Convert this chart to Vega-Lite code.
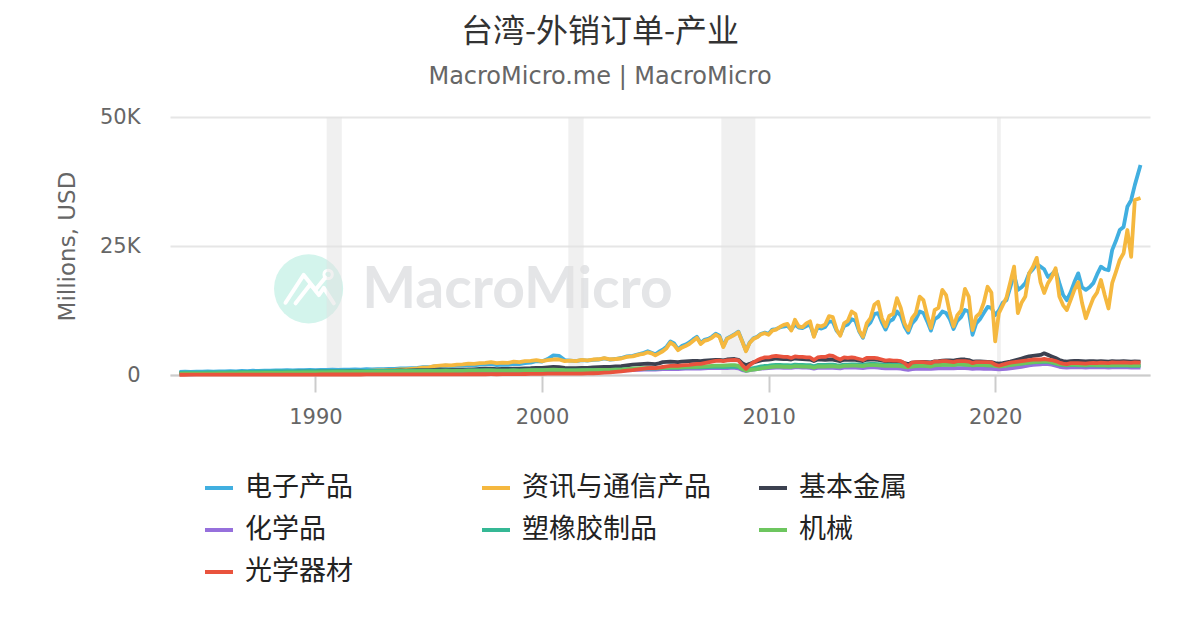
{
  "$schema": "https://vega.github.io/schema/vega-lite/v6.json",
  "width": 980,
  "height": 258,
  "autosize": {"type": "none"},
  "padding": {"left": 170, "top": 117, "right": 50, "bottom": 255},
  "background": "white",
  "title": {
    "text": "台湾-外销订单-产业",
    "subtitle": "MacroMicro.me | MacroMicro",
    "anchor": "middle",
    "frame": "group",
    "dx": -60,
    "font": "Noto Sans CJK SC",
    "fontSize": 32,
    "fontWeight": "normal",
    "color": "#333333",
    "subtitleFont": "DejaVu Sans",
    "subtitleFontSize": 24,
    "subtitleColor": "#666666",
    "subtitlePadding": 16,
    "offset": 16
  },
  "config": {"view": {"stroke": null}},
  "datasets": {
    "orders": [
      {"d":"1984-01","e":600,"i":250,"m":300,"c":150,"p":420,"k":230,"o":50},
      {"d":"1984-04","e":640,"i":260,"m":320,"c":160,"p":440,"k":240,"o":50},
      {"d":"1984-07","e":620,"i":280,"m":330,"c":150,"p":450,"k":250,"o":55},
      {"d":"1984-10","e":660,"i":290,"m":340,"c":170,"p":460,"k":260,"o":55},
      {"d":"1985-01","e":640,"i":300,"m":330,"c":160,"p":450,"k":250,"o":55},
      {"d":"1985-04","e":680,"i":310,"m":360,"c":180,"p":480,"k":270,"o":60},
      {"d":"1985-07","e":660,"i":330,"m":370,"c":170,"p":490,"k":280,"o":60},
      {"d":"1985-10","e":700,"i":340,"m":380,"c":190,"p":510,"k":290,"o":60},
      {"d":"1986-01","e":690,"i":350,"m":390,"c":190,"p":520,"k":290,"o":65},
      {"d":"1986-04","e":740,"i":370,"m":420,"c":210,"p":550,"k":310,"o":65},
      {"d":"1986-07","e":720,"i":390,"m":430,"c":200,"p":560,"k":320,"o":70},
      {"d":"1986-10","e":780,"i":410,"m":450,"c":220,"p":580,"k":340,"o":70},
      {"d":"1987-01","e":760,"i":420,"m":470,"c":230,"p":590,"k":350,"o":70},
      {"d":"1987-04","e":820,"i":450,"m":500,"c":250,"p":620,"k":370,"o":75},
      {"d":"1987-07","e":800,"i":470,"m":520,"c":260,"p":630,"k":380,"o":75},
      {"d":"1987-10","e":860,"i":490,"m":540,"c":280,"p":650,"k":400,"o":80},
      {"d":"1988-01","e":840,"i":500,"m":550,"c":280,"p":650,"k":400,"o":80},
      {"d":"1988-04","e":900,"i":530,"m":580,"c":300,"p":680,"k":420,"o":80},
      {"d":"1988-07","e":880,"i":540,"m":590,"c":300,"p":690,"k":430,"o":85},
      {"d":"1988-10","e":940,"i":560,"m":610,"c":320,"p":700,"k":450,"o":85},
      {"d":"1989-01","e":910,"i":570,"m":610,"c":320,"p":700,"k":450,"o":85},
      {"d":"1989-04","e":960,"i":590,"m":640,"c":340,"p":720,"k":470,"o":90},
      {"d":"1989-07","e":940,"i":600,"m":650,"c":340,"p":720,"k":480,"o":90},
      {"d":"1989-10","e":990,"i":620,"m":660,"c":350,"p":730,"k":500,"o":90},
      {"d":"1990-01","e":960,"i":620,"m":650,"c":340,"p":720,"k":490,"o":90},
      {"d":"1990-04","e":1010,"i":640,"m":680,"c":360,"p":740,"k":510,"o":95},
      {"d":"1990-07","e":990,"i":650,"m":690,"c":360,"p":740,"k":520,"o":95},
      {"d":"1990-10","e":1030,"i":670,"m":700,"c":370,"p":750,"k":530,"o":95},
      {"d":"1991-01","e":1000,"i":680,"m":690,"c":360,"p":740,"k":530,"o":95},
      {"d":"1991-04","e":1050,"i":710,"m":720,"c":380,"p":760,"k":560,"o":100},
      {"d":"1991-07","e":1040,"i":730,"m":730,"c":380,"p":760,"k":570,"o":100},
      {"d":"1991-10","e":1090,"i":760,"m":750,"c":400,"p":770,"k":590,"o":100},
      {"d":"1992-01","e":1060,"i":770,"m":740,"c":390,"p":760,"k":590,"o":100},
      {"d":"1992-04","e":1110,"i":800,"m":770,"c":410,"p":780,"k":610,"o":105},
      {"d":"1992-07","e":1100,"i":830,"m":780,"c":410,"p":780,"k":620,"o":105},
      {"d":"1992-10","e":1150,"i":870,"m":800,"c":420,"p":790,"k":640,"o":110},
      {"d":"1993-01","e":1120,"i":900,"m":790,"c":410,"p":780,"k":640,"o":110},
      {"d":"1993-04","e":1190,"i":960,"m":830,"c":430,"p":800,"k":660,"o":110},
      {"d":"1993-07","e":1200,"i":1000,"m":840,"c":440,"p":800,"k":670,"o":115},
      {"d":"1993-10","e":1280,"i":1080,"m":870,"c":450,"p":820,"k":690,"o":115},
      {"d":"1994-01","e":1260,"i":1100,"m":860,"c":440,"p":810,"k":690,"o":115},
      {"d":"1994-04","e":1350,"i":1200,"m":900,"c":460,"p":830,"k":710,"o":120},
      {"d":"1994-07","e":1400,"i":1280,"m":920,"c":470,"p":840,"k":720,"o":120},
      {"d":"1994-10","e":1520,"i":1420,"m":960,"c":480,"p":850,"k":740,"o":125},
      {"d":"1995-01","e":1500,"i":1480,"m":950,"c":480,"p":840,"k":730,"o":125},
      {"d":"1995-04","e":1650,"i":1700,"m":1000,"c":500,"p":860,"k":760,"o":130},
      {"d":"1995-07","e":1700,"i":1800,"m":1020,"c":500,"p":860,"k":770,"o":130},
      {"d":"1995-10","e":1820,"i":1900,"m":1050,"c":510,"p":870,"k":790,"o":135},
      {"d":"1996-01","e":1700,"i":1850,"m":1000,"c":490,"p":850,"k":770,"o":135},
      {"d":"1996-04","e":1800,"i":2000,"m":1040,"c":500,"p":860,"k":790,"o":140},
      {"d":"1996-07","e":1800,"i":2050,"m":1050,"c":500,"p":860,"k":800,"o":140},
      {"d":"1996-10","e":1950,"i":2200,"m":1100,"c":520,"p":880,"k":830,"o":145},
      {"d":"1997-01","e":1850,"i":2150,"m":1100,"c":520,"p":870,"k":820,"o":145},
      {"d":"1997-04","e":2000,"i":2300,"m":1180,"c":550,"p":900,"k":850,"o":150},
      {"d":"1997-07","e":2050,"i":2350,"m":1220,"c":560,"p":910,"k":870,"o":150},
      {"d":"1997-10","e":2150,"i":2500,"m":1250,"c":560,"p":910,"k":880,"o":155},
      {"d":"1998-01","e":1900,"i":2300,"m":1150,"c":500,"p":850,"k":830,"o":150},
      {"d":"1998-04","e":2000,"i":2400,"m":1180,"c":500,"p":850,"k":850,"o":155},
      {"d":"1998-07","e":1950,"i":2350,"m":1170,"c":490,"p":840,"k":840,"o":160},
      {"d":"1998-10","e":2150,"i":2600,"m":1230,"c":520,"p":870,"k":870,"o":165},
      {"d":"1999-01","e":2100,"i":2500,"m":1220,"c":520,"p":860,"k":860,"o":170},
      {"d":"1999-04","e":2300,"i":2700,"m":1300,"c":550,"p":900,"k":900,"o":190},
      {"d":"1999-07","e":2400,"i":2750,"m":1330,"c":560,"p":910,"k":920,"o":200},
      {"d":"1999-10","e":2700,"i":2900,"m":1400,"c":600,"p":930,"k":950,"o":220},
      {"d":"2000-01","e":2600,"i":2700,"m":1400,"c":600,"p":920,"k":940,"o":230},
      {"d":"2000-04","e":3100,"i":2900,"m":1480,"c":640,"p":950,"k":990,"o":250},
      {"d":"2000-07","e":3800,"i":3000,"m":1550,"c":670,"p":970,"k":1030,"o":260},
      {"d":"2000-10","e":3700,"i":3000,"m":1500,"c":660,"p":960,"k":1010,"o":260},
      {"d":"2001-01","e":2900,"i":2700,"m":1380,"c":600,"p":900,"k":920,"o":250},
      {"d":"2001-04","e":2800,"i":2800,"m":1350,"c":590,"p":890,"k":900,"o":250},
      {"d":"2001-07","e":2700,"i":2700,"m":1320,"c":580,"p":880,"k":880,"o":250},
      {"d":"2001-10","e":2900,"i":2950,"m":1380,"c":610,"p":910,"k":920,"o":280},
      {"d":"2002-01","e":2800,"i":2850,"m":1400,"c":620,"p":920,"k":920,"o":300},
      {"d":"2002-04","e":2950,"i":3000,"m":1480,"c":650,"p":950,"k":950,"o":340},
      {"d":"2002-07","e":3000,"i":3050,"m":1520,"c":660,"p":960,"k":970,"o":380},
      {"d":"2002-10","e":3200,"i":3250,"m":1580,"c":690,"p":990,"k":1000,"o":450},
      {"d":"2003-01","e":3000,"i":3050,"m":1580,"c":700,"p":990,"k":1000,"o":500},
      {"d":"2003-04","e":3100,"i":3100,"m":1650,"c":760,"p":1030,"k":1030,"o":600},
      {"d":"2003-07","e":3300,"i":3200,"m":1720,"c":800,"p":1060,"k":1060,"o":700},
      {"d":"2003-10","e":3600,"i":3500,"m":1850,"c":880,"p":1120,"k":1150,"o":850},
      {"d":"2004-01","e":3700,"i":3600,"m":2000,"c":950,"p":1150,"k":1250,"o":950},
      {"d":"2004-03","e":3900,"i":3800,"m":2050,"c":1000,"p":1180,"k":1300,"o":1050},
      {"d":"2004-05","e":4100,"i":4000,"m":2100,"c":1020,"p":1200,"k":1320,"o":1150},
      {"d":"2004-07","e":4300,"i":4100,"m":2150,"c":1050,"p":1220,"k":1350,"o":1250},
      {"d":"2004-09","e":4600,"i":4400,"m":2200,"c":1070,"p":1250,"k":1380,"o":1350},
      {"d":"2004-11","e":4300,"i":4200,"m":2150,"c":1050,"p":1230,"k":1350,"o":1400},
      {"d":"2005-01","e":4000,"i":3800,"m":2100,"c":1050,"p":1250,"k":1350,"o":1350},
      {"d":"2005-03","e":4500,"i":4200,"m":2250,"c":1100,"p":1300,"k":1400,"o":1450},
      {"d":"2005-05","e":4900,"i":4600,"m":2500,"c":1120,"p":1320,"k":1420,"o":1550},
      {"d":"2005-07","e":5500,"i":5200,"m":2550,"c":1150,"p":1350,"k":1450,"o":1650},
      {"d":"2005-09","e":6500,"i":6300,"m":2600,"c":1170,"p":1380,"k":1480,"o":1750},
      {"d":"2005-11","e":6100,"i":5800,"m":2550,"c":1160,"p":1370,"k":1470,"o":1800},
      {"d":"2006-01","e":5000,"i":4800,"m":2500,"c":1150,"p":1370,"k":1500,"o":1750},
      {"d":"2006-03","e":5600,"i":5300,"m":2600,"c":1200,"p":1420,"k":1550,"o":1850},
      {"d":"2006-05","e":5900,"i":5600,"m":2650,"c":1220,"p":1440,"k":1570,"o":1900},
      {"d":"2006-07","e":6300,"i":6000,"m":2700,"c":1240,"p":1460,"k":1580,"o":1950},
      {"d":"2006-09","e":6900,"i":6600,"m":2750,"c":1260,"p":1480,"k":1600,"o":2050},
      {"d":"2006-11","e":7400,"i":7200,"m":2750,"c":1250,"p":1470,"k":1600,"o":2150},
      {"d":"2007-01","e":6200,"i":6000,"m":2700,"c":1260,"p":1480,"k":1620,"o":2150},
      {"d":"2007-03","e":6800,"i":6600,"m":2800,"c":1300,"p":1520,"k":1680,"o":2300},
      {"d":"2007-05","e":7000,"i":6800,"m":2850,"c":1320,"p":1540,"k":1720,"o":2450},
      {"d":"2007-07","e":7400,"i":7200,"m":2900,"c":1340,"p":1560,"k":1760,"o":2600},
      {"d":"2007-09","e":8000,"i":7800,"m":2950,"c":1360,"p":1580,"k":1800,"o":2750},
      {"d":"2007-11","e":7600,"i":7400,"m":2950,"c":1350,"p":1570,"k":1820,"o":2800},
      {"d":"2008-01","e":5600,"i":5400,"m":2850,"c":1330,"p":1550,"k":1800,"o":2700},
      {"d":"2008-03","e":7100,"i":7000,"m":3000,"c":1360,"p":1580,"k":1880,"o":2850},
      {"d":"2008-05","e":7500,"i":7400,"m":3050,"c":1380,"p":1600,"k":1900,"o":2900},
      {"d":"2008-07","e":7900,"i":7800,"m":3100,"c":1400,"p":1620,"k":1920,"o":2950},
      {"d":"2008-09","e":8400,"i":8300,"m":2950,"c":1300,"p":1550,"k":1750,"o":2850},
      {"d":"2008-11","e":6600,"i":6500,"m":2300,"c":950,"p":1150,"k":1150,"o":1900},
      {"d":"2009-01","e":4700,"i":4600,"m":1900,"c":800,"p":1000,"k":800,"o":1200},
      {"d":"2009-03","e":6300,"i":6200,"m":2150,"c":950,"p":1200,"k":950,"o":1900},
      {"d":"2009-05","e":7100,"i":7000,"m":2450,"c":1050,"p":1350,"k":1050,"o":2450},
      {"d":"2009-07","e":7400,"i":7300,"m":2650,"c":1150,"p":1500,"k":1150,"o":2850},
      {"d":"2009-09","e":8000,"i":7900,"m":2850,"c":1250,"p":1650,"k":1300,"o":3200},
      {"d":"2009-11","e":8200,"i":8100,"m":2950,"c":1300,"p":1750,"k":1400,"o":3400},
      {"d":"2010-01","e":8000,"i":7800,"m":3000,"c":1350,"p":1800,"k":1500,"o":3400},
      {"d":"2010-03","e":8800,"i":8600,"m":3100,"c":1400,"p":1900,"k":1600,"o":3600},
      {"d":"2010-05","e":8900,"i":8800,"m":3200,"c":1450,"p":1950,"k":1650,"o":3700},
      {"d":"2010-07","e":9200,"i":9300,"m":3150,"c":1420,"p":1950,"k":1650,"o":3600},
      {"d":"2010-09","e":9400,"i":9700,"m":3100,"c":1400,"p":1900,"k":1600,"o":3500},
      {"d":"2010-11","e":9500,"i":9900,"m":3100,"c":1400,"p":1900,"k":1600,"o":3500},
      {"d":"2011-01","e":8800,"i":8600,"m":3000,"c":1380,"p":1850,"k":1550,"o":3300},
      {"d":"2011-03","e":9800,"i":10700,"m":3200,"c":1500,"p":2000,"k":1700,"o":3600},
      {"d":"2011-05","e":9200,"i":9400,"m":3150,"c":1480,"p":1980,"k":1680,"o":3500},
      {"d":"2011-07","e":9100,"i":9300,"m":3100,"c":1450,"p":1950,"k":1650,"o":3500},
      {"d":"2011-09","e":9500,"i":10000,"m":3050,"c":1430,"p":1930,"k":1620,"o":3400},
      {"d":"2011-11","e":9700,"i":10400,"m":3000,"c":1400,"p":1900,"k":1600,"o":3400},
      {"d":"2012-01","e":7600,"i":7400,"m":2700,"c":1250,"p":1700,"k":1400,"o":2900},
      {"d":"2012-03","e":9200,"i":9600,"m":3000,"c":1400,"p":1950,"k":1650,"o":3400},
      {"d":"2012-05","e":9000,"i":9400,"m":3000,"c":1400,"p":1950,"k":1650,"o":3500},
      {"d":"2012-07","e":9300,"i":9800,"m":2950,"c":1380,"p":1950,"k":1650,"o":3500},
      {"d":"2012-09","e":10400,"i":11400,"m":3000,"c":1400,"p":2000,"k":1700,"o":3800},
      {"d":"2012-11","e":10300,"i":11200,"m":3000,"c":1400,"p":2000,"k":1700,"o":3700},
      {"d":"2013-01","e":8600,"i":8800,"m":2850,"c":1350,"p":1900,"k":1650,"o":3300},
      {"d":"2013-03","e":7800,"i":7600,"m":2700,"c":1300,"p":1850,"k":1600,"o":3000},
      {"d":"2013-05","e":9500,"i":10000,"m":2950,"c":1420,"p":2000,"k":1750,"o":3400},
      {"d":"2013-07","e":9800,"i":10500,"m":2950,"c":1420,"p":2000,"k":1750,"o":3300},
      {"d":"2013-09","e":10800,"i":12300,"m":3000,"c":1450,"p":2050,"k":1800,"o":3400},
      {"d":"2013-11","e":10500,"i":11800,"m":2950,"c":1430,"p":2050,"k":1800,"o":3300},
      {"d":"2014-01","e":8400,"i":8600,"m":2800,"c":1380,"p":2000,"k":1750,"o":3100},
      {"d":"2014-03","e":7200,"i":7400,"m":2700,"c":1350,"p":1950,"k":1700,"o":2900},
      {"d":"2014-05","e":9400,"i":10000,"m":2950,"c":1450,"p":2100,"k":1850,"o":3300},
      {"d":"2014-07","e":10200,"i":11000,"m":3000,"c":1470,"p":2150,"k":1900,"o":3300},
      {"d":"2014-09","e":11800,"i":13600,"m":3000,"c":1460,"p":2150,"k":1900,"o":3300},
      {"d":"2014-11","e":12000,"i":14200,"m":2950,"c":1440,"p":2100,"k":1880,"o":3200},
      {"d":"2015-01","e":10200,"i":11000,"m":2800,"c":1350,"p":2000,"k":1800,"o":3000},
      {"d":"2015-03","e":8800,"i":9400,"m":2700,"c":1300,"p":1950,"k":1750,"o":2800},
      {"d":"2015-05","e":10400,"i":11500,"m":2750,"c":1320,"p":2000,"k":1800,"o":2900},
      {"d":"2015-07","e":10800,"i":11800,"m":2700,"c":1300,"p":1950,"k":1750,"o":2800},
      {"d":"2015-09","e":12300,"i":14900,"m":2650,"c":1280,"p":1950,"k":1750,"o":2800},
      {"d":"2015-11","e":11500,"i":13000,"m":2550,"c":1230,"p":1900,"k":1700,"o":2700},
      {"d":"2016-01","e":9400,"i":10000,"m":2300,"c":1100,"p":1750,"k":1600,"o":2300},
      {"d":"2016-03","e":8200,"i":8700,"m":2100,"c":1000,"p":1650,"k":1500,"o":1700},
      {"d":"2016-05","e":10000,"i":11000,"m":2400,"c":1150,"p":1800,"k":1650,"o":2400},
      {"d":"2016-07","e":10800,"i":12000,"m":2450,"c":1180,"p":1850,"k":1700,"o":2500},
      {"d":"2016-09","e":12300,"i":15200,"m":2500,"c":1200,"p":1900,"k":1750,"o":2500},
      {"d":"2016-11","e":12000,"i":14500,"m":2550,"c":1200,"p":1900,"k":1750,"o":2500},
      {"d":"2017-01","e":10400,"i":11500,"m":2500,"c":1200,"p":1850,"k":1700,"o":2400},
      {"d":"2017-03","e":8600,"i":9100,"m":2450,"c":1180,"p":1800,"k":1650,"o":2300},
      {"d":"2017-05","e":10800,"i":12600,"m":2650,"c":1250,"p":1950,"k":1850,"o":2600},
      {"d":"2017-07","e":11300,"i":13000,"m":2700,"c":1270,"p":1950,"k":1900,"o":2600},
      {"d":"2017-09","e":12300,"i":16500,"m":2800,"c":1300,"p":2000,"k":1950,"o":2700},
      {"d":"2017-11","e":12000,"i":15500,"m":2850,"c":1300,"p":2000,"k":2000,"o":2700},
      {"d":"2018-01","e":10800,"i":12000,"m":2850,"c":1300,"p":2000,"k":1950,"o":2600},
      {"d":"2018-03","e":8900,"i":9400,"m":2800,"c":1280,"p":1950,"k":1900,"o":2500},
      {"d":"2018-05","e":10500,"i":11600,"m":2950,"c":1330,"p":2050,"k":2050,"o":2700},
      {"d":"2018-07","e":11200,"i":12500,"m":3000,"c":1350,"p":2050,"k":2050,"o":2700},
      {"d":"2018-09","e":12600,"i":16700,"m":3000,"c":1330,"p":2000,"k":2000,"o":2700},
      {"d":"2018-11","e":12300,"i":15200,"m":2900,"c":1300,"p":1950,"k":1950,"o":2600},
      {"d":"2019-01","e":7800,"i":8700,"m":2600,"c":1200,"p":1850,"k":1850,"o":2300},
      {"d":"2019-03","e":10000,"i":11300,"m":2650,"c":1220,"p":1900,"k":1900,"o":2500},
      {"d":"2019-05","e":10800,"i":12000,"m":2650,"c":1220,"p":1900,"k":1900,"o":2500},
      {"d":"2019-07","e":12000,"i":14000,"m":2600,"c":1200,"p":1900,"k":1900,"o":2500},
      {"d":"2019-09","e":13200,"i":17100,"m":2550,"c":1200,"p":1880,"k":1880,"o":2500},
      {"d":"2019-11","e":13000,"i":16000,"m":2500,"c":1180,"p":1850,"k":1850,"o":2450},
      {"d":"2020-01","e":11600,"i":6500,"m":2300,"c":1150,"p":1800,"k":1750,"o":2000},
      {"d":"2020-03","e":12500,"i":12000,"m":2200,"c":1100,"p":1700,"k":1650,"o":1800},
      {"d":"2020-05","e":14000,"i":13500,"m":2300,"c":1150,"p":1750,"k":1700,"o":2000},
      {"d":"2020-07","e":14500,"i":15000,"m":2450,"c":1200,"p":1850,"k":1800,"o":2200},
      {"d":"2020-09","e":17000,"i":18000,"m":2600,"c":1300,"p":1950,"k":1900,"o":2400},
      {"d":"2020-11","e":19500,"i":21000,"m":2800,"c":1400,"p":2050,"k":2000,"o":2500},
      {"d":"2021-01","e":16500,"i":12000,"m":3000,"c":1500,"p":2150,"k":2100,"o":2600},
      {"d":"2021-03","e":17000,"i":14000,"m":3200,"c":1600,"p":2200,"k":2200,"o":2700},
      {"d":"2021-05","e":17800,"i":15200,"m":3400,"c":1700,"p":2300,"k":2300,"o":2800},
      {"d":"2021-07","e":19700,"i":19700,"m":3600,"c":1850,"p":2400,"k":2400,"o":2900},
      {"d":"2021-09","e":20500,"i":21000,"m":3700,"c":1950,"p":2450,"k":2500,"o":3000},
      {"d":"2021-11","e":21500,"i":22700,"m":3800,"c":2000,"p":2500,"k":2550,"o":3000},
      {"d":"2022-01","e":21000,"i":18000,"m":3900,"c":2050,"p":2500,"k":2600,"o":3000},
      {"d":"2022-03","e":20500,"i":15900,"m":4200,"c":2150,"p":2600,"k":2700,"o":3100},
      {"d":"2022-05","e":19000,"i":17800,"m":3900,"c":2100,"p":2550,"k":2650,"o":3000},
      {"d":"2022-07","e":19500,"i":19000,"m":3600,"c":2000,"p":2400,"k":2500,"o":2900},
      {"d":"2022-09","e":20300,"i":20700,"m":3300,"c":1800,"p":2200,"k":2300,"o":2700},
      {"d":"2022-11","e":17800,"i":15200,"m":2900,"c":1600,"p":2000,"k":2100,"o":2400},
      {"d":"2023-01","e":15500,"i":13500,"m":2700,"c":1500,"p":1900,"k":2000,"o":2200},
      {"d":"2023-03","e":14500,"i":12600,"m":2600,"c":1450,"p":1850,"k":1950,"o":2100},
      {"d":"2023-05","e":16000,"i":14500,"m":2700,"c":1500,"p":1900,"k":2000,"o":2300},
      {"d":"2023-07","e":18000,"i":16500,"m":2750,"c":1500,"p":1900,"k":2000,"o":2300},
      {"d":"2023-09","e":19700,"i":18000,"m":2750,"c":1500,"p":1880,"k":1980,"o":2300},
      {"d":"2023-11","e":17000,"i":14000,"m":2700,"c":1480,"p":1850,"k":1950,"o":2250},
      {"d":"2024-01","e":16500,"i":11000,"m":2650,"c":1450,"p":1800,"k":1900,"o":2200},
      {"d":"2024-03","e":17000,"i":13000,"m":2700,"c":1480,"p":1850,"k":1950,"o":2300},
      {"d":"2024-05","e":17800,"i":14900,"m":2700,"c":1500,"p":1850,"k":1950,"o":2350},
      {"d":"2024-07","e":19500,"i":16000,"m":2650,"c":1480,"p":1800,"k":1900,"o":2300},
      {"d":"2024-09","e":21000,"i":18400,"m":2700,"c":1500,"p":1850,"k":1950,"o":2400},
      {"d":"2024-11","e":20500,"i":15500,"m":2650,"c":1480,"p":1800,"k":1900,"o":2350},
      {"d":"2025-01","e":20300,"i":12900,"m":2600,"c":1450,"p":1750,"k":1850,"o":2300},
      {"d":"2025-03","e":24200,"i":17800,"m":2700,"c":1500,"p":1850,"k":1950,"o":2450},
      {"d":"2025-05","e":26000,"i":20000,"m":2650,"c":1480,"p":1800,"k":1900,"o":2400},
      {"d":"2025-07","e":28100,"i":22300,"m":2650,"c":1480,"p":1800,"k":1900,"o":2400},
      {"d":"2025-09","e":28700,"i":23600,"m":2700,"c":1500,"p":1850,"k":1950,"o":2450},
      {"d":"2025-11","e":32600,"i":28100,"m":2650,"c":1480,"p":1800,"k":1900,"o":2400},
      {"d":"2026-01","e":33900,"i":22900,"m":2600,"c":1450,"p":1750,"k":1850,"o":2350},
      {"d":"2026-03","e":36800,"i":33900,"m":2650,"c":1480,"p":1800,"k":1900,"o":2450},
      {"d":"2026-06","e":40700,"i":34300,"m":2600,"c":1450,"p":1750,"k":1850,"o":2400}
    ],
    "bands": [
      {"s": "1990-07-01", "e": "1991-03-01"},
      {"s": "2001-03-01", "e": "2001-11-01"},
      {"s": "2007-12-01", "e": "2009-06-01"},
      {"s": "2020-02-01", "e": "2020-04-01"}
    ],
    "logo": [
      {"g": "a", "d": "1988-09-05", "v": 14000},
      {"g": "a", "d": "1989-06-25", "v": 19400},
      {"g": "a", "d": "1990-01-01", "v": 16500},
      {"g": "a", "d": "1990-06-10", "v": 18900},
      {"g": "b", "d": "1989-02-14", "v": 13900},
      {"g": "b", "d": "1989-10-12", "v": 17600},
      {"g": "b", "d": "1990-02-25", "v": 15500},
      {"g": "b", "d": "1990-05-15", "v": 16900},
      {"g": "b", "d": "1990-10-23", "v": 13900}
    ]
  },
  "layer": [
    {
      "data": {"values": [{"d": "1989-09-12", "v": 16700}]},
      "mark": {"type": "circle", "size": 4780, "color": "#d3f4ec", "opacity": 1},
      "encoding": {
        "x": {"field": "d", "type": "temporal", "scale": {"domain": [{"year": 1983, "month": 8, "date": 1}, {"year": 2026, "month": 11, "date": 1}]}},
        "y": {"field": "v", "type": "quantitative", "scale": {"domain": [0, 50000], "nice": false}}
      }
    },
    {
      "data": {"name": "logo"},
      "mark": {"type": "line", "color": "white", "strokeWidth": 4, "strokeCap": "round", "strokeJoin": "round"},
      "encoding": {
        "x": {"field": "d", "type": "temporal"},
        "y": {"field": "v", "type": "quantitative"},
        "detail": {"field": "g", "type": "nominal"}
      }
    },
    {
      "data": {"values": [{"d": "1990-07-24", "v": 19500}]},
      "mark": {"type": "point", "filled": false, "color": "white", "strokeWidth": 3, "size": 70, "opacity": 1},
      "encoding": {
        "x": {"field": "d", "type": "temporal"},
        "y": {"field": "v", "type": "quantitative"}
      }
    },
    {
      "data": {"values": [{"d": "1992-01-25", "v": 13000, "t": "MacroMicro"}]},
      "mark": {"type": "text", "align": "left", "baseline": "alphabetic", "font": "Lato", "fontWeight": "bold", "fontSize": 57, "color": "#e4e5e7"},
      "encoding": {
        "x": {"field": "d", "type": "temporal"},
        "y": {"field": "v", "type": "quantitative"},
        "text": {"field": "t", "type": "nominal"}
      }
    },
    {
      "data": {"name": "bands"},
      "mark": {"type": "rect", "color": "#e2e2e2", "opacity": 0.5},
      "encoding": {
        "x": {"field": "s", "type": "temporal"},
        "x2": {"field": "e"},
        "y": {"datum": 0, "type": "quantitative"},
        "y2": {"datum": 50000}
      }
    },
    {
      "data": {"name": "orders"},
      "transform": [{"fold": ["e", "i", "m", "c", "p", "k", "o"], "as": ["s", "v"]}],
      "mark": {"type": "line", "strokeWidth": 3.8, "strokeJoin": "round"},
      "encoding": {
        "x": {
          "field": "d",
          "type": "temporal",
          "axis": {
            "title": null,
            "values": [{"year": 1990}, {"year": 2000}, {"year": 2010}, {"year": 2020}],
            "format": "%Y",
            "grid": false,
            "labelFont": "DejaVu Sans",
            "labelFontSize": 21,
            "labelColor": "#666666",
            "labelPadding": 14,
            "tickColor": "#cccccc",
            "tickSize": 17,
            "tickWidth": 2,
            "domainColor": "#cccccc",
            "domainWidth": 2
          }
        },
        "y": {
          "field": "v",
          "type": "quantitative",
          "axis": {
            "title": "Millions, USD",
            "values": [0, 25000, 50000],
            "labelExpr": "datum.value == 0 ? '0' : (datum.value / 1000) + 'K'",
            "grid": true,
            "gridColor": "#e6e6e6",
            "gridWidth": 2,
            "domain": false,
            "ticks": false,
            "labelPadding": 30,
            "labelFont": "DejaVu Sans",
            "labelFontSize": 21,
            "labelColor": "#666666",
            "titleFont": "DejaVu Sans",
            "titleFontSize": 23,
            "titleFontWeight": "normal",
            "titleColor": "#666666",
            "titlePadding": 20
          }
        },
        "color": {
          "field": "s",
          "type": "nominal",
          "scale": {
            "domain": ["e", "i", "m", "c", "p", "k", "o"],
            "range": ["#41afe0", "#f5b83f", "#3c4150", "#9670dc", "#35b895", "#6dc65f", "#e9533d"]
          },
          "legend": {
            "title": null,
            "orient": "none",
            "direction": "horizontal",
            "legendX": 33,
            "legendY": 355,
            "columns": 3,
            "gridAlign": "all",
            "columnPadding": 40,
            "rowPadding": 13,
            "symbolType": "stroke",
            "symbolSize": 784,
            "symbolStrokeWidth": 4,
            "labelFont": "Noto Sans CJK SC",
            "labelFontSize": 27,
            "labelColor": "#222222",
            "labelOffset": 10,
            "labelLimit": 0,
            "labelExpr": "datum.label == 'e' ? '电子产品' : datum.label == 'i' ? '资讯与通信产品' : datum.label == 'm' ? '基本金属' : datum.label == 'c' ? '化学品' : datum.label == 'p' ? '塑橡胶制品' : datum.label == 'k' ? '机械' : '光学器材'"
          }
        }
      }
    }
  ]
}
